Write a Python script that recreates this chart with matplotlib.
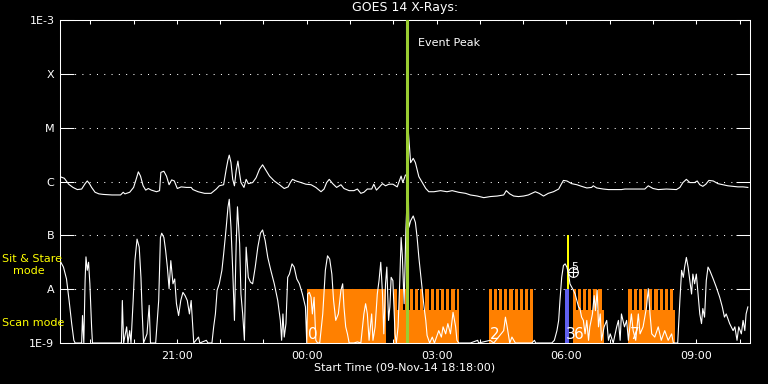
import numpy as np
import matplotlib.pyplot as plt

# time in hours after start (09-Nov-14 18:18:00), flux given as log10(W/m^2)
long_t = [0.00, 0.10, 0.20, 0.30, 0.40, 0.50, 0.58, 0.63, 0.68, 0.73, 0.81, 0.90, 1.00, 1.20, 1.40,
          1.46, 1.50, 1.61, 1.70, 1.77, 1.81, 1.86, 1.92, 1.98, 2.04, 2.11, 2.23, 2.30, 2.33, 2.40,
          2.46, 2.52, 2.58, 2.64, 2.71, 2.80, 2.92, 3.03, 3.07, 3.19, 3.34, 3.49, 3.61, 3.68, 3.78,
          3.84, 3.88, 3.91, 3.95, 3.99, 4.03, 4.07, 4.11, 4.15, 4.18, 4.25, 4.30, 4.35, 4.45, 4.53,
          4.61, 4.68, 4.74, 4.84, 4.95, 5.07, 5.18, 5.27, 5.32, 5.37, 5.45, 5.57, 5.68, 5.80, 5.91,
          6.03, 6.10, 6.16, 6.22, 6.30, 6.39, 6.49, 6.56, 6.68, 6.79, 6.87, 6.95, 7.02, 7.10, 7.20,
          7.25, 7.31, 7.37, 7.45, 7.52, 7.60, 7.69, 7.79, 7.84, 7.88, 7.92, 7.98, 8.02, 8.05, 8.10,
          8.16, 8.21, 8.29, 8.37, 8.45, 8.52, 8.64, 8.79, 8.94, 9.06, 9.21, 9.37, 9.48, 9.64, 9.79,
          9.94, 10.10, 10.25, 10.31, 10.39, 10.48, 10.59, 10.71, 10.82, 10.98, 11.07, 11.17, 11.28,
          11.40, 11.52, 11.58, 11.63, 11.71, 11.82, 11.94, 12.05, 12.17, 12.28, 12.32, 12.40, 12.55,
          12.67, 12.82, 12.97, 13.05, 13.24, 13.40, 13.51, 13.59, 13.70, 13.82, 14.01, 14.24, 14.32,
          14.39, 14.47, 14.55, 14.66, 14.72, 14.78, 14.85, 14.92, 14.99, 15.09, 15.20, 15.32, 15.43,
          15.55, 15.66, 15.78, 15.89]
long_lf = [-5.91, -5.94, -6.05, -6.11, -6.15, -6.14, -6.04, -5.99, -6.04, -6.11, -6.20, -6.23, -6.24, -6.25, -6.25,
           -6.20, -6.23, -6.20, -6.11, -5.93, -5.82, -5.90, -6.08, -6.16, -6.13, -6.16, -6.19, -6.17, -5.83, -5.81,
           -5.90, -6.06, -5.97, -5.99, -6.13, -6.10, -6.11, -6.11, -6.15, -6.19, -6.22, -6.22, -6.14, -6.08, -6.06,
           -5.77, -5.60, -5.51, -5.65, -5.96, -6.08, -5.80, -5.62, -5.86, -6.02, -6.11, -5.96, -6.04, -6.02, -5.93,
           -5.77, -5.69, -5.77, -5.90, -5.99, -6.06, -6.13, -6.10, -6.02, -5.96, -5.99, -6.02, -6.05, -6.06, -6.11,
           -6.19, -6.14, -6.02, -5.96, -6.04, -6.11, -6.06, -6.13, -6.17, -6.17, -6.14, -6.22, -6.20, -6.14, -6.14,
           -6.05, -6.16, -6.11, -6.04, -6.08, -6.05, -6.05, -6.10, -5.99, -5.90, -6.02, -5.88, -5.88, -5.10, -5.65,
           -5.57, -5.65, -5.91, -6.02, -6.13, -6.19, -6.19, -6.17, -6.19, -6.17, -6.20, -6.22, -6.25, -6.27, -6.30,
           -6.28, -6.27, -6.25, -6.17, -6.23, -6.27, -6.28, -6.27, -6.25, -6.19, -6.22, -6.27, -6.22,
           -6.19, -6.14, -6.05, -5.98, -5.99, -6.04, -6.06, -6.09, -6.12, -6.11, -6.08, -6.12, -6.14,
           -6.15, -6.15, -6.15, -6.14, -6.14, -6.14, -6.14, -6.08, -6.13, -6.15, -6.14, -6.15, -6.11,
           -6.02, -5.96, -6.02, -6.02, -5.99, -6.06, -6.09, -6.05, -5.98, -5.99, -6.04, -6.06, -6.08,
           -6.09, -6.10, -6.10, -6.11]

short_t = [0.00, 0.08, 0.15, 0.21, 0.27, 0.32, 0.35, 0.50, 0.52, 0.55, 0.58, 0.60, 0.63, 0.66, 0.69,
           0.73, 0.75, 1.42, 1.44, 1.47, 1.54, 1.57, 1.61, 1.64, 1.69, 1.73, 1.78, 1.83, 1.87, 1.90,
           1.93, 2.01, 2.06, 2.09, 2.21, 2.28, 2.32, 2.35, 2.40, 2.44, 2.48, 2.52, 2.56, 2.61,
           2.65, 2.69, 2.74, 2.79, 2.84, 2.89, 2.94, 2.99, 3.03, 3.09, 3.20, 3.23, 3.38, 3.42, 3.51,
           3.55, 3.59, 3.63, 3.68, 3.74, 3.78, 3.84, 3.88, 3.91, 3.95, 3.99, 4.03, 4.07, 4.10, 4.15,
           4.18, 4.22, 4.26, 4.30, 4.35, 4.40, 4.45, 4.51, 4.57, 4.63, 4.68, 4.74, 4.80, 4.87, 4.95,
           5.03, 5.09, 5.12, 5.15, 5.18, 5.22, 5.26,
           5.30, 5.36, 5.41, 5.47, 5.53, 5.60, 5.67, 5.70, 5.72, 5.76, 5.80, 5.83, 5.87, 5.91, 5.95,
           6.00, 6.07, 6.13, 6.18, 6.23, 6.28, 6.32, 6.37, 6.43, 6.49, 6.53, 6.56, 6.60, 6.64, 6.68,
           6.79, 6.87, 6.95, 7.02, 7.06, 7.10, 7.14, 7.20, 7.23, 7.28, 7.33, 7.37, 7.41, 7.45, 7.48,
           7.52, 7.55, 7.59, 7.62, 7.65, 7.69, 7.74, 7.77, 7.81, 7.85, 7.88, 7.91, 7.95, 7.99,
           8.04, 8.06, 8.10, 8.16, 8.21, 8.25, 8.29, 8.33, 8.37, 8.41, 8.45, 8.48, 8.54, 8.60, 8.65,
           8.75, 8.81, 8.85, 8.91, 8.96, 9.02, 9.08, 9.14, 9.17, 9.21, 9.48, 9.65, 9.67, 9.94, 10.02,
           10.25, 10.29, 10.33, 10.39, 10.44, 10.52,
           10.59, 10.90, 10.96, 10.99, 11.36, 11.42, 11.48, 11.52, 11.55, 11.59, 11.63, 11.67, 11.71,
           11.75, 11.78, 11.82, 11.86, 11.90, 11.94, 11.98, 12.01, 12.05, 12.09, 12.13, 12.17, 12.21,
           12.24, 12.30, 12.34, 12.37, 12.41, 12.44, 12.48, 12.51, 12.57, 12.63, 12.67, 12.71, 12.78,
           12.86, 12.90, 12.94, 12.97, 13.04, 13.09, 13.13, 13.20,
           13.24, 13.30, 13.36, 13.40, 13.47, 13.55, 13.59, 13.63, 13.67, 13.74, 13.82, 13.89, 13.97,
           14.05, 14.13, 14.17, 14.27, 14.32, 14.36, 14.40, 14.43, 14.47, 14.51, 14.55, 14.59, 14.62,
           14.66, 14.70, 14.74, 14.78, 14.82, 14.85, 14.89, 14.93, 14.97, 15.01, 15.09, 15.16, 15.24,
           15.30, 15.35, 15.39, 15.47, 15.55, 15.59, 15.64, 15.68, 15.74, 15.78, 15.82, 15.85, 15.89]
short_lf = [-7.47, -7.59, -7.81, -8.21, -8.64, -8.95, -9.0, -9.0, -8.49, -9.0, -7.84, -7.40, -7.65, -7.50, -7.90,
            -8.70, -9.0, -9.0, -8.21, -9.0, -8.70, -9.0, -8.77, -9.0, -8.21, -7.47, -7.07, -7.22, -7.78, -8.46,
            -9.0, -8.83, -8.30, -9.0, -9.0, -8.21, -7.04, -6.96, -7.04, -7.28, -7.59, -7.99, -7.47, -7.90,
            -7.81, -8.27, -8.49, -8.21, -8.06, -8.12, -8.21, -8.46, -8.21, -9.0, -8.89, -9.0, -8.95, -9.0, -9.0,
            -8.70, -8.46, -8.02, -7.90, -7.65, -7.35, -6.85, -6.48, -6.33, -6.85, -7.65, -8.58, -7.16, -6.47, -7.16,
            -8.09, -8.46, -8.95, -7.22, -7.78, -7.87, -7.90, -7.59, -7.22, -6.96, -6.90, -7.10, -7.41, -7.65, -7.90,
            -8.21, -8.58, -8.95, -8.46, -8.89, -8.64, -7.78,
            -7.72, -7.53, -7.59, -7.81, -7.90, -8.09, -8.33, -9.0, -8.09, -8.06, -8.15, -8.46, -8.15, -8.95, -9.0,
            -9.0, -8.46, -7.65, -7.38, -7.44, -7.72, -8.21, -8.58, -8.46, -8.02, -7.90, -8.33, -8.70, -8.83, -9.0,
            -9.0, -8.98, -9.0, -8.46, -8.27, -8.46, -8.95, -8.46, -8.95, -8.70, -8.09, -7.84, -7.50, -8.09, -8.83,
            -7.90, -7.59, -8.58, -8.33, -7.78, -7.84, -8.83, -9.0, -8.70, -7.84, -7.04, -7.41, -8.27, -6.90,
            -5.90, -6.85, -6.73, -6.64, -6.76, -7.04, -7.41, -7.72, -8.02, -8.33, -8.58, -8.86, -9.0, -8.89, -9.0,
            -8.77, -8.89, -8.70, -8.83, -8.64, -8.83, -8.43, -8.70, -8.95, -9.0, -9.0, -8.95, -9.0, -8.95, -9.0,
            -8.77, -8.52, -8.70, -9.0, -8.89, -9.0,
            -9.0, -9.0, -8.95, -9.0, -9.0, -8.95, -8.77, -8.58, -8.21, -7.78, -7.56, -7.53, -7.59,
            -7.72, -7.90, -7.96, -8.02, -8.09, -8.21, -8.33, -8.36, -8.52, -8.58, -8.83, -8.58, -8.95,
            -8.70, -8.46, -8.12, -8.40, -8.02, -8.70, -8.46, -8.95, -8.70, -8.58, -8.95, -8.83, -9.0,
            -8.70, -8.58, -8.95, -8.46, -8.70, -8.58, -8.95, -8.46,
            -8.77, -8.95, -8.46, -8.83, -8.70, -8.33, -7.99, -8.46, -8.83, -8.89, -8.70, -8.95, -8.77,
            -8.95, -8.83, -9.0, -9.0, -8.21, -7.65, -7.78, -7.59, -7.41, -7.59, -7.84, -8.09, -7.72,
            -7.90, -7.72, -8.09, -8.46, -8.64, -8.36, -8.52, -7.84, -7.59, -7.65, -7.81, -7.96, -8.15,
            -8.33, -8.52, -8.46, -8.64, -8.77, -8.70, -8.95, -8.70, -8.83, -8.58, -8.77, -8.46, -8.33]

# observation blocks
scan_start = [5.71, 7.72, 9.90, 11.84, 13.13]
scan_end = [7.53, 9.21, 10.92, 12.57, 14.21]
scan_comb = [False, True, True, True, True]
scan_labels = ['0', '', '2', '6', '7']
scan_cadence = 0.12   # hours between scan teeth
tooth_width = 0.076
comb_base = -8.39
stare_blue = (11.67, 11.75)
stare_yellow = (11.72, 11.77)
event_peak_t = 8.02
marker_t, marker_lf = 11.86, -7.68

ytick_vals = [1e-9, 1e-8, 1e-7, 1e-6, 1e-5, 1e-4, 1e-3]
ytick_labels = ['1E-9', 'A', 'B', 'C', 'M', 'X', '1E-3']
xtick_vals = [2.7, 5.7, 8.7, 11.7, 14.7]
xtick_labels = ['21:00', '00:00', '03:00', '06:00', '09:00']
hour_ticks = [0.7 + i for i in range(16)]

orange = '#ff8000'
yellow = '#ffff00'

def frac(lf):
    return (lf + 9) / 6.0

fig = plt.figure(figsize=(7.68, 3.84), dpi=100, facecolor='black')
ax = fig.add_axes([60/768, 41/384, 690/768, 323/384])
ax.set_facecolor('black')
ax.set_yscale('log')
ax.set_ylim(1e-9, 1e-3)
ax.set_xlim(0, 15.94)

# scan mode blocks
for s, e, comb, lab in zip(scan_start, scan_end, scan_comb, scan_labels):
    if comb:
        ax.axvspan(s, e, ymin=0, ymax=frac(comb_base), color=orange, lw=0, zorder=1.6)
        for x in np.arange(s, e - tooth_width / 2, scan_cadence):
            ax.axvspan(x, min(x + tooth_width, e), ymin=0, ymax=frac(-8), color=orange, lw=0, zorder=1.6)
    else:
        ax.axvspan(s, e, ymin=0, ymax=frac(-8), color=orange, lw=0, zorder=1.6)
    if lab:
        ax.text(s + 0.03, 10**-8.93, lab, color='white', fontsize=11, ha='left', va='baseline', zorder=4)

ax.axvspan(*stare_blue, ymin=0, ymax=frac(-8), color='#6060f0', lw=0, zorder=1.7)
ax.axvspan(*stare_yellow, ymin=frac(-8), ymax=frac(-7), color=yellow, lw=0, zorder=1.7)
ax.text(stare_blue[0] + 0.02, 10**-8.93, '3', color='white', fontsize=11, ha='left', va='baseline', zorder=4)

# flux curves
ax.plot(long_t, 10**np.array(long_lf), color='white', lw=0.8, zorder=2)
ax.plot(short_t, 10**np.array(short_lf), color='white', lw=0.8, zorder=2)

ax.plot(marker_t, 10**marker_lf, marker='o', ms=7, mfc='none', mec='white', mew=0.8, zorder=4)
ax.plot(marker_t, 10**marker_lf, marker='+', ms=7, mec='white', mew=0.8, zorder=4)
ax.text(marker_t + 0.02, 10**(marker_lf + 0.1), '5', color='white', fontsize=8, ha='center', va='center', zorder=4)

ax.axvline(event_peak_t, color='#9acd32', lw=2.2, zorder=3)
ax.text(8.27, 10**-3.43, 'Event Peak', color='white', fontsize=8, ha='left', va='center')

# axes styling
ax.yaxis.set_major_locator(plt.FixedLocator(ytick_vals))
ax.yaxis.set_minor_locator(plt.NullLocator())
ax.set_yticklabels(ytick_labels)
ax.set_xticks(xtick_vals)
ax.set_xticklabels(xtick_labels)
ax.set_xticks(hour_ticks, minor=True)
ax.tick_params(axis='y', which='major', direction='in', length=10, width=0.75, colors='white',
               left=True, right=True, labelsize=8, pad=4)
ax.tick_params(axis='x', which='both', direction='in', length=3, width=0.75, colors='white',
               top=True, bottom=True, labelsize=8, pad=6)
ax.yaxis.grid(True, color='white', linestyle=(0, (1, 6)), lw=0.75)
for sp in ax.spines.values():
    sp.set_color('white')
    sp.set_linewidth(0.75)

fig.text(405/768, 1 - 8/384, 'GOES 14 X-Rays:', color='white', fontsize=9, ha='center', va='center')
fig.text(405/768, 1 - 368/384, 'Start Time (09-Nov-14 18:18:00)', color='white', fontsize=8,
         ha='center', va='center')
fig.text(2/768, 1 - 259/384, 'Sit & Stare', color=yellow, fontsize=8, ha='left', va='center')
fig.text(13/768, 1 - 271/384, 'mode', color=yellow, fontsize=8, ha='left', va='center')
fig.text(2/768, 1 - 323/384, 'Scan mode', color=yellow, fontsize=8, ha='left', va='center')

fig.savefig('out.png', dpi=100, facecolor='black')
